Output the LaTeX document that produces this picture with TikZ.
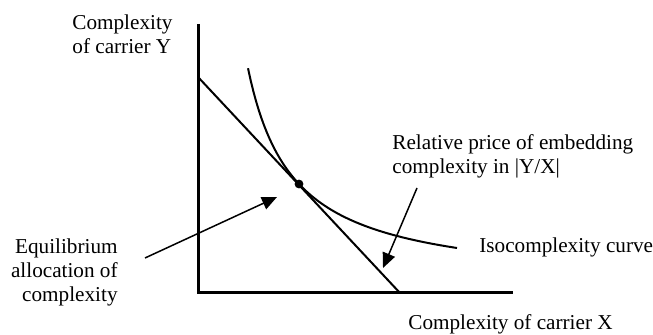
\documentclass[tikz,border=0pt]{standalone}
\usepackage{fontspec}
\setmainfont{Liberation Serif}
\usetikzlibrary{arrows.meta}
\begin{document}
\begin{tikzpicture}[
        x=0.5pt, y=-0.5pt,
        axis/.style={line width=1.5pt},
        curvel/.style={line width=1pt},
        pointer/.style={line width=0.75pt, -{Triangle[length=7.5pt,width=6.5pt]}},
        lbl/.style={inner sep=0pt, font=\fontsize{10.6}{12.2}\selectfont},
        every node/.style={lbl},
    ]
    \useasboundingbox (0,0) rectangle (653,335);
    % axes
    \coordinate (ytop) at (198,24);
    \coordinate (orig) at (198,293);
    \coordinate (xend) at (513,293);
    \draw[axis] (ytop) -- (orig) -- (xend);
    % budget line and isocomplexity curve
    \coordinate (bl0) at (198,77);
    \coordinate (bl1) at (400,293);
    \draw[curvel] (bl0) -- (bl1);
    \draw[curvel] plot[domain=248:457, samples=80] (\x, {287.05 - 9934/(\x-202.6)});
    \fill (299,184) circle (2.2pt) node (eq) {};
    % labels
    \node[anchor=north west, align=left] (ylab) at (72,14) {Complexity\\of carrier Y};
    \node[anchor=base west] (xlab) at (408,330) {Complexity of carrier X};
    \node[anchor=base west] (iso) at (479,253) {Isocomplexity curve};
    \node[anchor=north west, align=left] (price) at (392,134) {Relative price of embedding\\complexity in |Y/X|};
    \node[anchor=north east, align=right] (equi) at (118,238) {Equilibrium\\allocation of\\complexity};
    % pointers
    \coordinate (p1s) at (145,258);
    \coordinate (p1e) at (277,197);
    \coordinate (p2s) at (417,188);
    \coordinate (p2e) at (383,268);
    \draw[pointer] (p1s) -- (p1e);
    \draw[pointer] (p2s) -- (p2e);
\end{tikzpicture}
\end{document}
